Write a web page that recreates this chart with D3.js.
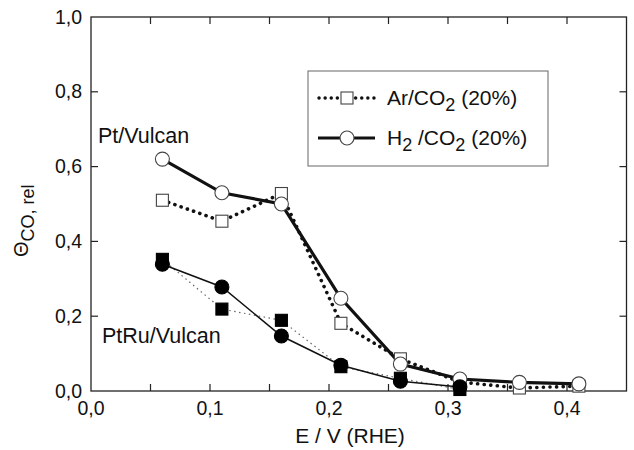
<!DOCTYPE html>
<html><head><meta charset="utf-8">
<script src="https://cdn.jsdelivr.net/npm/d3@7"></script>
<style>body{margin:0;background:#fff}svg{display:block}text{font-family:"Liberation Sans",Arial,sans-serif;fill:#111}</style>
</head><body><svg id="c" width="634" height="450"></svg>
<script>
const potentials = [0.06,0.11,0.16,0.21,0.26,0.31,0.36,0.41];
const ptH2 = [0.62,0.53,0.50,0.248,0.072,0.032,0.023,0.019];
const ptAr = [0.51,0.454,0.528,0.181,0.086,0.024,0.008,0.013];
const ptruPot = [0.06,0.11,0.16,0.21,0.26,0.31];
const ptruH2 = [0.339,0.278,0.147,0.069,0.026,0.011];
const ptruAr = [0.352,0.219,0.189,0.065,0.034,0.004];
const xTicks = [0,0.1,0.2,0.3,0.4];
const xMinor = [0.05,0.15,0.25,0.35];
const yTicks = [0,0.2,0.4,0.6,0.8,1.0];
const fmt = d => d.toFixed(1).replace('.', ',');

const svg = d3.select('#c');
const x = d3.scaleLinear().domain([0,0.45]).range([91,626.5]);
const y = d3.scaleLinear().domain([0,1]).range([391,17]);

svg.append('rect').attr('x',x(0)).attr('y',y(1)).attr('width',x(0.45)-x(0)).attr('height',y(0)-y(1))
  .attr('fill','none').attr('stroke','#222').attr('stroke-width',1.3);

const tl = 7;
const allX = xTicks.concat(xMinor).filter(v=>v>0);
allX.forEach(v=>{
  svg.append('line').attr('x1',x(v)).attr('x2',x(v)).attr('y1',y(0)).attr('y2',y(0)-tl).attr('stroke','#222').attr('stroke-width',1.2);
  svg.append('line').attr('x1',x(v)).attr('x2',x(v)).attr('y1',y(1)).attr('y2',y(1)+tl).attr('stroke','#222').attr('stroke-width',1.2);
});
yTicks.filter(v=>v>0&&v<1).forEach(v=>{
  svg.append('line').attr('x1',x(0)).attr('x2',x(0)+tl).attr('y1',y(v)).attr('y2',y(v)).attr('stroke','#222').attr('stroke-width',1.2);
  svg.append('line').attr('x1',x(0.45)).attr('x2',x(0.45)-tl).attr('y1',y(v)).attr('y2',y(v)).attr('stroke','#222').attr('stroke-width',1.2);
});
xTicks.forEach(v=>{
  svg.append('text').attr('x',x(v)).attr('y',415).attr('text-anchor','middle').attr('font-size',19.5).text(fmt(v));
});
yTicks.forEach(v=>{
  svg.append('text').attr('x',82).attr('y',y(v)+6.5).attr('text-anchor','end').attr('font-size',19.5).text(fmt(v));
});
svg.append('text').attr('x',350).attr('y',443).attr('text-anchor','middle').attr('font-size',21).text('E / V (RHE)');
const yl = svg.append('text').attr('transform','translate(28,257) rotate(-90)').attr('font-size',20);
yl.append('tspan').text('Θ');
yl.append('tspan').attr('dy',6).attr('font-size',18).text('CO, rel');

const line = d3.line().x(d=>x(d[0])).y(d=>y(d[1]));
const zip = (a,b)=>a.map((v,i)=>[v,b[i]]);
svg.append('path').attr('d',line(zip(potentials,ptAr))).attr('fill','none').attr('stroke','#111')
  .attr('stroke-width',3.6).attr('stroke-linecap','round').attr('stroke-dasharray','0.1 6.5');
svg.append('path').attr('d',line(zip(potentials,ptH2))).attr('fill','none').attr('stroke','#111').attr('stroke-width',3.2);
svg.append('path').attr('d',line(zip(ptruPot,ptruAr))).attr('fill','none').attr('stroke','#666')
  .attr('stroke-width',1.2).attr('stroke-dasharray','1.5 3.5');
svg.append('path').attr('d',line(zip(ptruPot,ptruH2))).attr('fill','none').attr('stroke','#111').attr('stroke-width',1.5);

const sq = 12, r = 7;
const sqs = (xs,ys,fill,stroke)=>svg.append('g').selectAll('rect').data(zip(xs,ys)).join('rect')
  .attr('x',d=>x(d[0])-sq/2).attr('y',d=>y(d[1])-sq/2).attr('width',sq).attr('height',sq)
  .attr('fill',fill).attr('stroke',stroke).attr('stroke-width',1.1);
const circs = (xs,ys,fill,stroke)=>svg.append('g').selectAll('circle').data(zip(xs,ys)).join('circle')
  .attr('cx',d=>x(d[0])).attr('cy',d=>y(d[1])).attr('r',r)
  .attr('fill',fill).attr('stroke',stroke).attr('stroke-width',1.1);
sqs(potentials,ptAr,'#fff','#444');
circs(potentials,ptH2,'#fff','#444');
sqs(ptruPot,ptruAr,'#000','#000');
circs(ptruPot,ptruH2,'#000','#000');

svg.append('text').attr('x',98).attr('y',143).attr('font-size',21.5).text('Pt/Vulcan');
svg.append('text').attr('x',102).attr('y',343).attr('font-size',21.5).text('PtRu/Vulcan');

svg.append('rect').attr('x',308).attr('y',71).attr('width',240).attr('height',95).attr('fill','#fff').attr('stroke','#666').attr('stroke-width',1);
svg.append('line').attr('x1',319).attr('x2',375).attr('y1',98).attr('y2',98).attr('stroke','#111')
  .attr('stroke-width',3.4).attr('stroke-linecap','round').attr('stroke-dasharray','0.1 6');
svg.append('rect').attr('x',341).attr('y',92).attr('width',sq).attr('height',sq).attr('fill','#fff').attr('stroke','#444').attr('stroke-width',1.1);
svg.append('line').attr('x1',318).attr('x2',375).attr('y1',138).attr('y2',138).attr('stroke','#111').attr('stroke-width',3.2);
svg.append('circle').attr('cx',347).attr('cy',138).attr('r',r).attr('fill','#fff').attr('stroke','#444').attr('stroke-width',1.1);
const t1 = svg.append('text').attr('x',387).attr('y',105).attr('font-size',21);
t1.append('tspan').text('Ar/CO');
t1.append('tspan').attr('dy',6).attr('font-size',18).text('2');
t1.append('tspan').attr('dy',-6).text(' (20%)');
const t2 = svg.append('text').attr('x',387).attr('y',145).attr('font-size',21);
t2.append('tspan').text('H');
t2.append('tspan').attr('dy',6).attr('font-size',18).text('2');
t2.append('tspan').attr('dy',-6).text(' /CO');
t2.append('tspan').attr('dy',6).attr('font-size',18).text('2');
t2.append('tspan').attr('dy',-6).text(' (20%)');
</script></body></html>
